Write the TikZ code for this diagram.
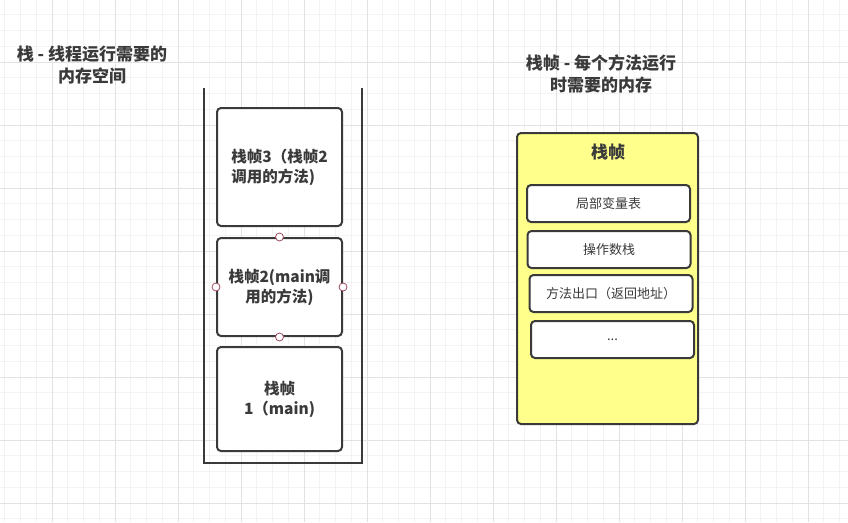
\documentclass[tikz,border=0pt]{standalone}
\usepackage{fontspec}
\setmainfont{Noto Sans CJK SC}
\definecolor{edge}{HTML}{3A3A3A}
\definecolor{memo}{HTML}{FFFF8C}
\definecolor{portred}{HTML}{A04A5E}
\definecolor{gridmin}{HTML}{F3F3F3}
\definecolor{gridmaj}{HTML}{E2E2E2}
\begin{document}
\begin{tikzpicture}[x=1pt, y=-1pt,
          heading/.style={font=\fontsize{17}{21.5}\selectfont\bfseries, text=edge, align=center, inner sep=0pt},
          frame/.style={draw=edge, line width=2pt, rounded corners=4pt, fill=white, minimum width=125pt, inner sep=2pt, font=\fontsize{15.5}{20}\selectfont\bfseries, text=edge},
          slot/.style={draw=edge, line width=2pt, rounded corners=4pt, fill=white, minimum width=163pt, minimum height=37pt, inner sep=0pt, font=\fontsize{13}{16}\selectfont, text=edge},
          port/.style={draw=portred, fill=white, circle, line width=0.8pt, minimum size=8pt, inner sep=0pt}]
        \useasboundingbox[fill=white] (0,0) rectangle (848,522);
        % grid
        \foreach \gx in {4.75,20.5,...,848} {\draw[gridmin, line width=0.8pt] (\gx,0) -- (\gx,522);}
        \foreach \gy in {-1,14.75,...,522} {\draw[gridmin, line width=0.8pt] (0,\gy) -- (848,\gy);}
        \foreach \gx in {52,115,...,848} {\draw[gridmaj, line width=0.8pt] (\gx,0) -- (\gx,522);}
        \foreach \gy in {62,125,...,522} {\draw[gridmaj, line width=0.8pt] (0,\gy) -- (848,\gy);}
        % left: thread stack
        \node[heading] (stacktitle) at (92,65) {栈 - 线程运行需要的\\内存空间};
        \draw[edge, line width=2pt] (204,88) -- (204,463) -- (362,463) -- (362,88);
        \node[frame, minimum height=118pt, align=left] (f3) at (279.5,167) {栈帧3（栈帧2\\调用的方法)};
        \node[frame, minimum height=98pt, align=center] (f2) at (279.5,287) {栈帧2(main调\\用的方法)};
        \node[frame, minimum height=104pt, align=center] (f1) at (279.5,399) {栈帧\\1（main)};
        \foreach \an in {north, south, west, east} {\node[port] (p\an) at (f2.\an) {};}
        % right: one frame
        \node[heading] (frametitle) at (601,74) {栈帧 - 每个方法运行\\时需要的内存};
        \node[draw=edge, line width=2pt, rounded corners=4pt, fill=memo, minimum width=181pt, minimum height=291pt] (fr) at (607.5,278.5) {};
        \node[font=\fontsize{17}{20}\selectfont\bfseries, text=edge] (frname) at (608,152) {栈帧};
        \node[slot] (s1) at (608.5,203.5) {局部变量表};
        \node[slot] (s2) at (609,249.5) {操作数栈};
        \node[slot] (s3) at (611,293.5) {方法出口（返回地址）};
        \node[slot] (s4) at (612.5,339.5) {...};
      \end{tikzpicture}
\end{document}
